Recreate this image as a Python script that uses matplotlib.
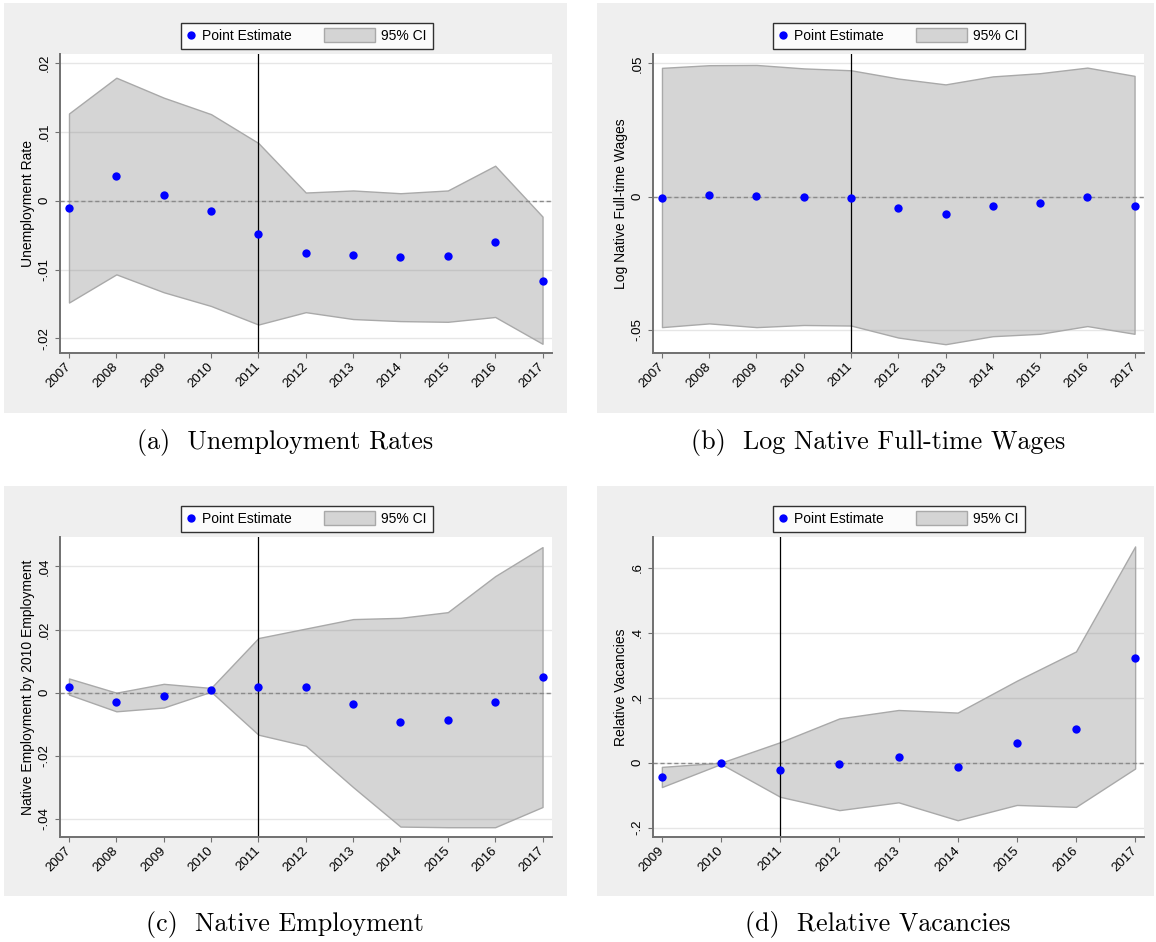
import matplotlib
matplotlib.use("Agg")
import matplotlib.pyplot as plt
from matplotlib.lines import Line2D
from matplotlib.patches import Patch, Rectangle
from matplotlib.legend_handler import HandlerBase

# =========================
# Data
# =========================
YEARS_FULL = [2007, 2008, 2009, 2010, 2011, 2012, 2013, 2014, 2015, 2016, 2017]
YEARS_VAC = [2009, 2010, 2011, 2012, 2013, 2014, 2015, 2016, 2017]

UNEMP_EST = [-0.0011, 0.0036, 0.0008, -0.0015, -0.0049, -0.0076, -0.0079, -0.0082, -0.0080, -0.0060, -0.0117]
UNEMP_HI = [0.0127, 0.0179, 0.0150, 0.0126, 0.0084, 0.0012, 0.0015, 0.0011, 0.0015, 0.0051, -0.0023]
UNEMP_LO = [-0.0148, -0.0107, -0.0133, -0.0153, -0.0180, -0.0162, -0.0172, -0.0175, -0.0176, -0.0169, -0.0208]

WAGE_EST = [-0.0004, 0.0008, 0.0003, 0.0000, -0.0005, -0.0044, -0.0066, -0.0036, -0.0025, -0.0001, -0.0033]
WAGE_HI = [0.0483, 0.0493, 0.0494, 0.0481, 0.0474, 0.0443, 0.0421, 0.0451, 0.0463, 0.0484, 0.0453]
WAGE_LO = [-0.0489, -0.0475, -0.0489, -0.0481, -0.0483, -0.0528, -0.0553, -0.0523, -0.0514, -0.0485, -0.0514]

EMP_EST = [0.0019, -0.0031, -0.0011, 0.0007, 0.0018, 0.0017, -0.0035, -0.0094, -0.0087, -0.0028, 0.0049]
EMP_HI = [0.0045, 0.0000, 0.0028, 0.0015, 0.0173, 0.0203, 0.0233, 0.0237, 0.0255, 0.0369, 0.0461]
EMP_LO = [-0.0006, -0.0059, -0.0047, 0.0003, -0.0133, -0.0168, -0.0299, -0.0424, -0.0426, -0.0426, -0.0362]

VAC_EST = [-0.044, -0.002, -0.023, -0.005, 0.018, -0.013, 0.059, 0.102, 0.323]
VAC_HI = [-0.013, 0.000, 0.063, 0.136, 0.162, 0.154, 0.252, 0.342, 0.665]
VAC_LO = [-0.075, -0.004, -0.105, -0.146, -0.122, -0.177, -0.130, -0.136, -0.018]

UNEMP_TICKS = [-0.02, -0.01, 0, 0.01, 0.02]
UNEMP_TICKLABELS = ["-.02", "-.01", "0", ".01", ".02"]
WAGE_TICKS = [-0.05, 0, 0.05]
WAGE_TICKLABELS = ["-.05", "0", ".05"]
EMP_TICKS = [-0.04, -0.02, 0, 0.02, 0.04]
EMP_TICKLABELS = ["-.04", "-.02", "0", ".02", ".04"]
VAC_TICKS = [-0.2, 0, 0.2, 0.4, 0.6]
VAC_TICKLABELS = ["-.2", "0", ".2", ".4", ".6"]

POLICY_YEAR = 2011

# =========================
# Style / layout (pixels of a 1156x942 canvas)
# =========================
W, H = 1156, 942
BG_GRAY = "#efefef"
CI_FACE = (0.5, 0.5, 0.5, 0.33)
CI_EDGE = "#a9a9a9"
SPINE = "#707070"
SANS = ["Liberation Sans", "DejaVu Sans"]

plt.rcParams["font.family"] = SANS


class CIHandler(HandlerBase):
    """Draw the grey CI swatch wider than the legend handle slot (Stata look)."""

    def create_artists(self, legend, orig_handle, xdescent, ydescent,
                       width, height, fontsize, trans):
        box_w = 3.7 * fontsize
        box_h = 1.0 * fontsize
        x0 = width - xdescent - box_w
        y0 = -ydescent + height / 2 - box_h / 2
        rect = Rectangle((x0, y0), box_w, box_h, facecolor="#d4d4d4",
                         edgecolor=CI_EDGE, linewidth=1.0, transform=trans)
        return [rect]


def px_box(x0, y0, x1, y1):
    """Convert a pixel box (top-left origin) to figure-fraction [l, b, w, h]."""
    return [x0 / W, 1 - y1 / H, (x1 - x0) / W, (y1 - y0) / H]


def draw_panel(fig, box, gray_box, years, est, lo, hi, ylim, xlim,
               yticks, yticklabels, ylabel, caption, caption_xy, legend_xy):
    gx0, gy0, gx1, gy1 = gray_box
    fig.patches.append(Rectangle((gx0 / W, 1 - gy1 / H), (gx1 - gx0) / W, (gy1 - gy0) / H,
                                 transform=fig.transFigure, facecolor=BG_GRAY,
                                 edgecolor="none", zorder=-5))

    ax = fig.add_axes(px_box(*box))
    ax.set_zorder(1)
    ax.set_facecolor("white")

    for y in yticks:
        ax.axhline(y, color="#e6e6e6", linewidth=1.0, zorder=0.5)

    ax.fill_between(years, lo, hi, facecolor=CI_FACE, edgecolor=CI_EDGE,
                    linewidth=1.0, zorder=1)
    ax.axhline(0, color="#8a8a8a", linewidth=1.0, linestyle=(0, (3, 2)), zorder=2)
    ax.axvline(POLICY_YEAR, color="black", linewidth=0.9, zorder=2)
    ax.plot(years, est, linestyle="none", marker="o", markersize=6,
            color="#0000ff", markeredgewidth=0, zorder=3)

    ax.set_xlim(*xlim)
    ax.set_ylim(*ylim)
    ax.set_xticks(years)
    ax.set_xticklabels([str(y) for y in years], rotation=45, ha="right",
                       va="center", rotation_mode="anchor", fontsize=9.5)
    ax.set_yticks(yticks)
    ax.set_yticklabels(yticklabels, rotation=90, va="center", fontsize=9.5)
    ax.tick_params(axis="both", direction="out", length=3.6, width=0.8,
                   color=SPINE, pad=3)
    ax.tick_params(axis="x", pad=5)
    ax.set_ylabel(ylabel, fontsize=10, labelpad=2.5)

    for side in ["top", "right"]:
        ax.spines[side].set_visible(False)
    for side in ["left", "bottom"]:
        ax.spines[side].set_color(SPINE)
        ax.spines[side].set_linewidth(1.4)

    handles = [
        Line2D([], [], linestyle="none", marker="o", markersize=6,
               color="#0000ff", markeredgewidth=0),
        Patch(facecolor="#d4d4d4", edgecolor=CI_EDGE),
    ]
    leg = fig.legend(handles, ["Point Estimate", "95% CI"], ncol=2,
                     loc="center", bbox_to_anchor=(legend_xy[0] / W, 1 - legend_xy[1] / H),
                     fontsize=10, frameon=True, fancybox=False,
                     handlelength=0.6, handletextpad=0.47, columnspacing=5.4,
                     borderpad=0.4, handler_map={Patch: CIHandler()})
    leg.get_frame().set_edgecolor("black")
    leg.get_frame().set_linewidth(1.0)
    leg.set_zorder(2)

    fig.text(caption_xy[0] / W, 1 - caption_xy[1] / H, caption,
             ha="center", va="center", fontsize=18.7, family=["cmr10", "DejaVu Serif"])
    return ax


def main():
    fig = plt.figure(figsize=(W / 100, H / 100), dpi=100)
    fig.patch.set_facecolor("white")

    xlim_full = (2006.81, 2017.2)
    xlim_vac = (2008.85, 2017.15)

    draw_panel(fig, (60, 54, 552, 353), (4, 3, 567, 413), YEARS_FULL,
               UNEMP_EST, UNEMP_LO, UNEMP_HI, (-0.02214, 0.02135), xlim_full,
               UNEMP_TICKS, UNEMP_TICKLABELS, "Unemployment Rate",
               "(a)  Unemployment Rates", (285, 442), (307, 36))

    draw_panel(fig, (653, 54, 1144, 353), (597, 3, 1154, 413), YEARS_FULL,
               WAGE_EST, WAGE_LO, WAGE_HI, (-0.0586, 0.0535), xlim_full,
               WAGE_TICKS, WAGE_TICKLABELS, "Log Native Full-time Wages",
               "(b)  Log Native Full-time Wages", (878, 442), (899, 36))

    draw_panel(fig, (60, 537, 552, 837), (4, 486, 567, 896), YEARS_FULL,
               EMP_EST, EMP_LO, EMP_HI, (-0.0457, 0.0493), xlim_full,
               EMP_TICKS, EMP_TICKLABELS, "Native Employment by 2010 Employment",
               "(c)  Native Employment", (285, 925), (307, 519))

    draw_panel(fig, (653, 537, 1144, 837), (597, 486, 1154, 896), YEARS_VAC,
               VAC_EST, VAC_LO, VAC_HI, (-0.2286, 0.694), xlim_vac,
               VAC_TICKS, VAC_TICKLABELS, "Relative Vacancies",
               "(d)  Relative Vacancies", (878, 925), (899, 519))

    fig.savefig("out.png", dpi=100, facecolor="white")
    plt.close(fig)


if __name__ == "__main__":
    main()
